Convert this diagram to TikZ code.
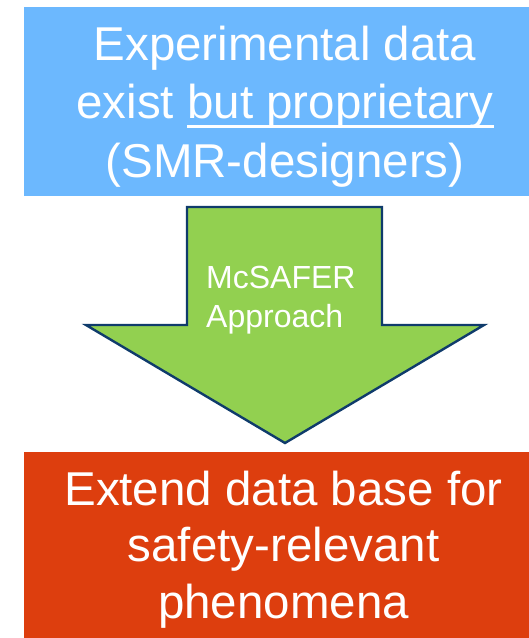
\documentclass[tikz,border=0pt]{standalone}
\usepackage{fontspec}
\setmainfont{Liberation Sans}
\usetikzlibrary{positioning}

\definecolor{skyblue}{HTML}{6CB8FE}
\definecolor{rustred}{HTML}{DD3E0E}
\definecolor{leafgreen}{HTML}{92D050}
\definecolor{navyline}{HTML}{0F3B6B}

\newcommand{\ulinetxt}[1]{\setbox0\hbox{#1}\rlap{\rule[-9pt]{\wd0}{2.6pt}}\box0}

\begin{document}
\begin{tikzpicture}[x=1pt, y=-1pt,
        blockbox/.style={rectangle, inner sep=0pt, minimum width=505pt},
        bigtext/.style={text=white, align=center, inner sep=0pt, anchor=base}]
        \useasboundingbox (0,0) rectangle (529,638);

        \node[blockbox, fill=skyblue, minimum height=189pt] (exist) at (276.5,101.5) {};
        \node[bigtext, font=\fontsize{47.5}{58.5}\selectfont] (existtext) at (285,177)
            {Experimental data\\exist \ulinetxt{but proprietary}\\(SMR-designers)};

        \node[blockbox, fill=rustred, minimum height=186pt] (extend) at (276.5,545) {};
        \node[bigtext, font=\fontsize{47.5}{56.5}\selectfont] (extendtext) at (283.5,618)
            {Extend data base for\\safety-relevant\\phenomena};

        \draw[navyline, line width=2.4pt, fill=leafgreen, line join=miter]
            (187,207) -- (382,207) -- (382,325) -- (484,325) -- (285,443)
            -- (86,325) -- (187,325) -- cycle;
        \node[text=white, align=left, anchor=base west, inner sep=0pt,
            font=\fontsize{32}{39}\selectfont] (approach) at (206,327) {McSAFER\\Approach};
    \end{tikzpicture}
\end{document}
